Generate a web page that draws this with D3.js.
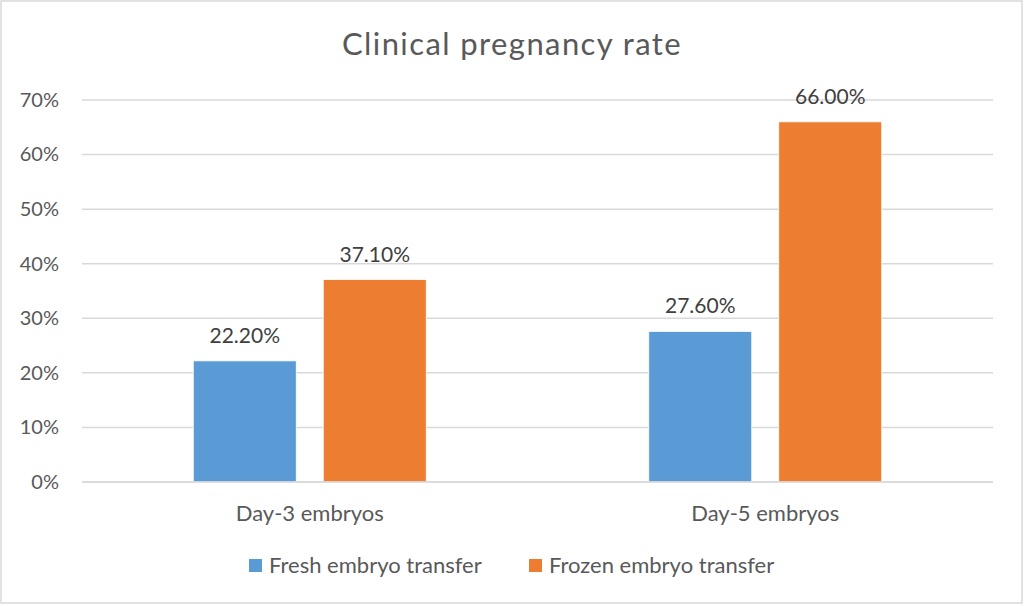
<!DOCTYPE html>
<html>
<head>
<meta charset="utf-8">
<script src="https://cdn.jsdelivr.net/npm/d3@7"></script>
<style>
  html, body { margin: 0; padding: 0; background: #fff; }
  svg { display: block; font-family: Lato, "Open Sans", sans-serif; }
</style>
</head>
<body>
<div id="chart"></div>
<script>
// chart data
const categories = ['Day-3 embryos', 'Day-5 embryos'];
const seriesNames = ['Fresh embryo transfer', 'Frozen embryo transfer'];
const freshValues = [0.222, 0.276];
const frozenValues = [0.371, 0.66];
const yTicks = [0, 0.1, 0.2, 0.3, 0.4, 0.5, 0.6, 0.7];
const colors = ['#5B9BD5', '#ED7D31'];

(function () {
  const W = 1024, H = 606;
  const plot = { left: 82, right: 993, top: 100, bottom: 482 };

  const svg = d3.select('#chart').append('svg')
    .attr('width', W).attr('height', H)
    .attr('viewBox', [0, 0, W, H]);

  /* ─── frame ─── */
  svg.append('rect')
    .attr('x', 1).attr('y', 1)
    .attr('width', W - 3).attr('height', H - 4)
    .attr('fill', '#fff')
    .attr('stroke', '#d9d9d9')
    .attr('stroke-width', 1.5);

  /* ─── scales ─── */
  const x0 = d3.scaleBand()
    .domain(categories)
    .range([plot.left, plot.right]);

  // bar 103 wide, 27 gap inside each group
  const x1 = d3.scaleBand()
    .domain(seriesNames)
    .range([0, x0.bandwidth()])
    .paddingInner(0.2077)
    .paddingOuter(0.856);

  const y = d3.scaleLinear()
    .domain([0, 0.7])
    .range([plot.bottom, plot.top]);

  /* ─── gridlines ─── */
  svg.append('g').selectAll('line')
    .data(yTicks)
    .join('line')
      .attr('x1', plot.left).attr('x2', plot.right)
      .attr('y1', d => y(d)).attr('y2', d => y(d))
      .attr('stroke', '#d9d9d9')
      .attr('stroke-width', 1.5);

  /* ─── y axis labels ─── */
  const yAxis = svg.append('g')
    .attr('transform', `translate(${plot.left},0)`)
    .call(d3.axisLeft(y).tickValues(yTicks).tickFormat(d3.format('.0%')).tickSize(0).tickPadding(23));
  yAxis.select('.domain').remove();
  yAxis.selectAll('text')
    .attr('fill', '#595959')
    .style('font-size', '20px')
    .style('font-family', 'Lato, sans-serif');

  /* ─── bars ─── */
  const rows = categories.map((c, i) => ({
    cat: c,
    vals: [
      { s: seriesNames[0], v: freshValues[i], c: colors[0] },
      { s: seriesNames[1], v: frozenValues[i], c: colors[1] }
    ]
  }));

  const groups = svg.append('g').selectAll('g')
    .data(rows)
    .join('g')
      .attr('transform', d => `translate(${x0(d.cat)},0)`);

  groups.selectAll('rect')
    .data(d => d.vals)
    .join('rect')
      .attr('x', d => x1(d.s))
      .attr('y', d => y(d.v))
      .attr('width', x1.bandwidth())
      .attr('height', d => y(0) - y(d.v))
      .attr('fill', d => d.c)
      .attr('stroke', '#fff')
      .attr('stroke-width', 0.8);

  groups.selectAll('text')
    .data(d => d.vals)
    .join('text')
      .attr('x', d => x1(d.s) + x1.bandwidth() / 2)
      .attr('y', d => y(d.v) - 18)
      .attr('text-anchor', 'middle')
      .attr('fill', '#404040')
      .style('font-size', '21px')
      .text(d => d3.format('.2%')(d.v));

  // baseline
  svg.append('line')
    .attr('x1', plot.left).attr('x2', plot.right)
    .attr('y1', y(0)).attr('y2', y(0))
    .attr('stroke', '#d9d9d9')
    .attr('stroke-width', 1.5);

  /* ─── x axis labels ─── */
  svg.append('g').selectAll('text')
    .data(categories)
    .join('text')
      .attr('x', d => x0(d) + x0.bandwidth() / 2)
      .attr('y', 521)
      .attr('text-anchor', 'middle')
      .attr('fill', '#595959')
      .style('font-size', '22px')
      .text(d => d);

  /* ─── title ─── */
  svg.append('text')
    .attr('x', 512)
    .attr('y', 55)
    .attr('text-anchor', 'middle')
    .attr('fill', '#595959')
    .style('font-size', '31px')
    .style('letter-spacing', '1.4px')
    .text('Clinical pregnancy rate');

  /* ─── legend ─── */
  const legendX = [249, 529];
  const legend = svg.append('g').selectAll('g')
    .data(seriesNames)
    .join('g')
      .attr('transform', (d, i) => `translate(${legendX[i]},559)`);

  legend.append('rect')
    .attr('width', 13).attr('height', 13)
    .attr('fill', (d, i) => colors[i]);

  legend.append('text')
    .attr('x', 20).attr('y', 13.5)
    .attr('fill', '#595959')
    .style('font-size', '22px')
    .text(d => d);
})();
</script>
</body>
</html>
